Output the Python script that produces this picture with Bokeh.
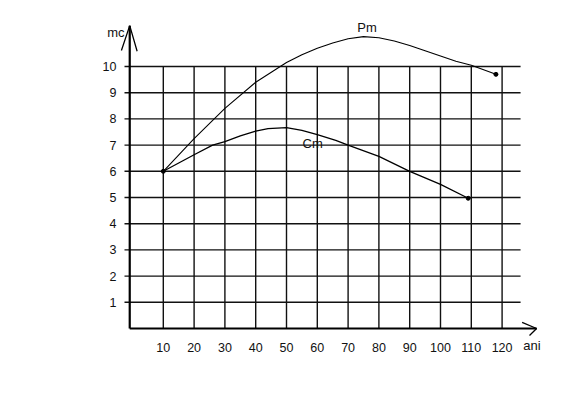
from bokeh.plotting import figure
from bokeh.models import Range1d
from bokeh.core.properties import value
from bokeh.embed import file_html
from bokeh.resources import INLINE

# ---- data ----
x_ticks = [10, 20, 30, 40, 50, 60, 70, 80, 90, 100, 110, 120]
x_labels = ["10", "20", "30", "40", "50", "60", "70", "80", "90", "100", "110", "120"]
y_ticks = [1, 2, 3, 4, 5, 6, 7, 8, 9, 10]
y_labels = ["1", "2", "3", "4", "5", "6", "7", "8", "9", "10"]

pm_x = [10, 20, 30, 40, 50, 55, 60, 65, 70, 75, 80, 85, 90, 95, 100, 105, 110, 118]
pm_y = [6.0, 7.25, 8.4, 9.4, 10.15, 10.45, 10.7, 10.9, 11.06, 11.14, 11.1, 10.97,
        10.8, 10.6, 10.4, 10.2, 10.05, 9.7]

cm_x = [10, 20, 26, 30, 35, 40, 44, 50, 55, 60, 66, 70, 80, 90, 100, 109]
cm_y = [6.0, 6.63, 7.0, 7.13, 7.35, 7.53, 7.63, 7.67, 7.56, 7.4, 7.18, 7.0, 6.57,
        6.0, 5.5, 4.97]

FONT = "Liberation Sans"
INK = "#111111"

p = figure(width=568, height=391, output_backend="svg", toolbar_location=None,
           x_range=Range1d(-42.86, 141.56), y_range=Range1d(-2.405, 12.519),
           min_border=0)
p.outline_line_color = None
p.grid.visible = False
p.xaxis.visible = False
p.yaxis.visible = False
p.background_fill_color = "white"

# grid
p.segment(x0=x_ticks, y0=[0] * len(x_ticks), x1=x_ticks, y1=[max(y_ticks)] * len(x_ticks),
          line_color=INK, line_width=1.4)
p.segment(x0=[-2.6] * len(y_ticks), y0=y_ticks, x1=[126] * len(y_ticks), y1=y_ticks,
          line_color=INK, line_width=1.4)

# tick labels
p.text(x=x_ticks, y=[-0.725] * len(x_ticks), text=x_labels, text_align="center",
       text_baseline="alphabetic", text_font=value(FONT), text_font_size="12.5px",
       text_color=INK)
p.text(x=[-5.2] * len(y_ticks), y=y_ticks, text=y_labels, text_align="right",
       text_baseline="middle", text_font=value(FONT), text_font_size="12.5px",
       text_color=INK)

# axes with arrows
ax0 = -0.9
ytop = 11.56
xend = 131.2
p.line([ax0, ax0], [0, ytop], line_color="black", line_width=2.2)
p.line([ax0, xend], [0, 0], line_color="black", line_width=2.2)
p.multi_line(xs=[[-3.6, ax0, 1.5], [126.5, xend, 128.9]],
             ys=[[10.61, ytop, 10.58], [0.23, 0, -0.27]],
             line_color="black", line_width=1.3)

# curves
p.line(pm_x, pm_y, line_color="black", line_width=1.1)
p.line(cm_x, cm_y, line_color="black", line_width=1.3)
p.scatter([pm_x[0], pm_x[-1], cm_x[-1]], [pm_y[0], pm_y[-1], cm_y[-1]],
          size=4, color="black")

# labels
for tx, ty, t, al in [(-2.6, 11.3, "mc", "right"), (126.9, -0.65, "ani", "left"),
                      (73.0, 11.5, "Pm", "left"), (55.2, 7.07, "Cm", "left")]:
    p.text(x=[tx], y=[ty], text=[t], text_align=al, text_baseline="alphabetic",
           text_font=value(FONT), text_font_size="13px", text_color=INK)

open("out.html", "w").write(file_html(p, INLINE))
